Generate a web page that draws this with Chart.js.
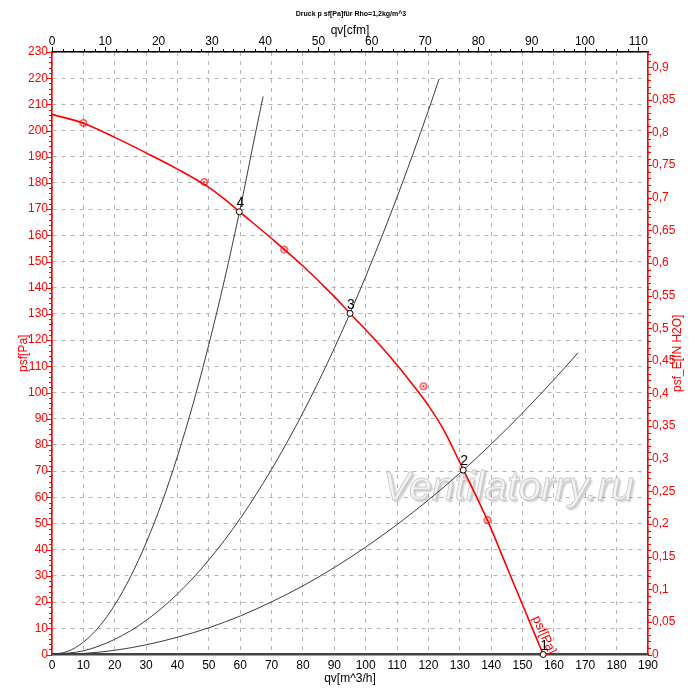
<!DOCTYPE html>
<html>
<head>
<meta charset="utf-8">
<script src="https://cdn.jsdelivr.net/npm/chart.js@4.4.1/dist/chart.umd.min.js"></script>
<style>
  html, body { margin: 0; padding: 0; background: #fff; }
  #wrap { width: 700px; height: 698px; position: relative; }
</style>
</head>
<body>
<div id="wrap"><canvas id="fanChart"></canvas></div>
<script>
// ------------------- Data -------------------
const fanFlow = [0, 10, 20, 30, 40, 50, 55, 60, 70, 80, 90, 95, 100, 105, 110, 115, 120, 125, 130, 135, 138.8, 145, 150, 156.6];
const fanPsf  = [206.2, 202.8, 197.4, 191.5, 185.3, 178.3, 173.8, 168.8, 158.8, 148.3, 136.6, 130.2, 124, 117.5, 110.5, 103, 95, 85.5, 73.3, 61, 51.3, 33.4, 19, 0];

const measFlow = [10, 48.5, 74, 118.4, 138.8];
const measPsf  = [202.9, 180.4, 154.6, 102.4, 51.3];

const sys4Flow = [0, 5, 10, 15, 20, 25, 30, 35, 40, 45, 50, 55, 60, 65, 67.3];
const sys4Psf  = [0, 1.2, 4.7, 10.6, 18.9, 29.6, 42.6, 57.9, 75.7, 95.8, 118.3, 143.1, 170.3, 199.8, 213];

const sys3Flow = [0, 10, 20, 30, 40, 50, 60, 70, 80, 90, 100, 110, 120, 123.4];
const sys3Psf  = [0, 1.4, 5.8, 13, 23.1, 36.1, 51.9, 70.7, 92.3, 116.9, 144.3, 174.6, 207.7, 219.7];

const sys2Flow = [0, 10, 20, 30, 40, 50, 60, 70, 80, 90, 100, 110, 120, 130, 140, 150, 160, 167.7];
const sys2Psf  = [0, 0.4, 1.6, 3.7, 6.6, 10.2, 14.7, 20.1, 26.2, 33.2, 41, 49.6, 59, 69.2, 80.3, 92.2, 104.9, 115.2];

const opFlow   = [156.6, 131.1, 95, 59.7];
const opPsf    = [0, 70.4, 130.2, 169];
const opLabels = ["1", "2", "3", "4"];

const M3H_TO_CFM = 0.588578;
const PA_TO_INH2O = 1 / 249.089;
const FLOW_MAX = 190;
const PSF_MAX = 230;

// ------------------- Helpers -------------------
const FONT = "'Liberation Sans', Arial, sans-serif";
const RED = "#ff0000";

function pairs(xs, ys) {
  return xs.map((x, i) => ({ x: x, y: ys[i] }));
}

function makeMarker() {
  const c = document.createElement("canvas");
  c.width = 10; c.height = 10;
  const g = c.getContext("2d");
  g.strokeStyle = RED;
  g.lineWidth = 1.1;
  g.beginPath(); g.arc(5, 5, 3.2, 0, Math.PI * 2); g.stroke();
  g.fillStyle = RED;
  g.beginPath(); g.arc(5, 5, 1.1, 0, Math.PI * 2); g.fill();
  return c;
}

function commaLabel(v) {
  return String(Math.round(v * 100) / 100).replace(".", ",");
}

// minor / major tick marks, extra texts, watermark
const decorations = {
  id: "decorations",
  beforeDatasetsDraw(chart) {
    const { ctx, scales: { x, y } } = chart;
    ctx.save();
    ctx.font = "italic 41px " + FONT;
    ctx.textAlign = "center";
    ctx.textBaseline = "alphabetic";
    const wx = x.getPixelForValue(145.5), wy = y.getPixelForValue(59);
    ctx.shadowColor = "rgba(0,0,0,0.22)";
    ctx.shadowOffsetX = 2; ctx.shadowOffsetY = 2; ctx.shadowBlur = 2;
    ctx.fillStyle = "#f3f3f3";
    ctx.fillText("Ventilatorry.ru", wx, wy);
    ctx.shadowColor = "transparent";
    ctx.strokeStyle = "#c9c9c9";
    ctx.lineWidth = 0.8;
    ctx.strokeText("Ventilatorry.ru", wx, wy);
    ctx.restore();
  },
  afterDraw(chart) {
    const { ctx, chartArea: a, scales: { x, y, x2, y2 } } = chart;
    ctx.save();
    ctx.lineWidth = 1;

    // left ticks
    ctx.strokeStyle = RED;
    for (let v = 0; v <= PSF_MAX; v += 2) {
      const py = Math.round(y.getPixelForValue(v)) + 0.5;
      const len = v % 10 === 0 ? 5 : 3;
      ctx.beginPath(); ctx.moveTo(a.left, py); ctx.lineTo(a.left - len, py); ctx.stroke();
    }
    // right ticks
    for (let i = 0; i <= 92; i++) {
      const py = Math.round(y2.getPixelForValue(i / 100)) + 0.5;
      const len = i % 5 === 0 ? 4 : 3;
      ctx.beginPath(); ctx.moveTo(a.right, py); ctx.lineTo(a.right + len, py); ctx.stroke();
    }
    // top ticks
    ctx.strokeStyle = "#000";
    for (let v = 0; v <= 111; v += 2) {
      const px = Math.round(x2.getPixelForValue(v)) + 0.5;
      const len = v % 10 === 0 ? 5 : 3;
      ctx.beginPath(); ctx.moveTo(px, a.top); ctx.lineTo(px, a.top - len); ctx.stroke();
    }

    // chart title
    ctx.fillStyle = "#000";
    ctx.font = "bold 7px " + FONT;
    ctx.textAlign = "center";
    ctx.textBaseline = "middle";
    ctx.fillText("Druck p sf[Pa]für Rho=1,2kg/m^3", 351, 14);

    // right axis title (reads upwards)
    ctx.save();
    ctx.fillStyle = RED;
    ctx.font = "12px " + FONT;
    ctx.translate(678, (a.top + a.bottom) / 2);
    ctx.rotate(-Math.PI / 2);
    ctx.fillText("psf_E[IN H2O]", 0, 0);
    ctx.restore();

    // curve label along the fan curve
    ctx.save();
    ctx.fillStyle = RED;
    ctx.font = "13px " + FONT;
    ctx.translate(x.getPixelForValue(156.8), y.getPixelForValue(7.4));
    ctx.rotate(1.15);
    ctx.fillText("psf[Pa]", 0, 0);
    ctx.restore();

    // operating point numbers
    const meta = chart.getDatasetMeta(0);
    ctx.fillStyle = "#000";
    ctx.font = "14px " + FONT;
    meta.data.forEach((el, i) => {
      ctx.fillText(opLabels[i], el.x + 1, el.y - 8.5);
    });
    ctx.restore();
  }
};

// ------------------- Chart -------------------
const tickFont = { family: FONT, size: 12 };

function systemCurve(xs, ys) {
  return {
    data: pairs(xs, ys),
    showLine: true,
    borderColor: "#3c3c3c",
    borderWidth: 1,
    pointRadius: 0,
    cubicInterpolationMode: "monotone"
  };
}

new Chart(document.getElementById("fanChart"), {
  type: "scatter",
  data: {
    datasets: [
      {
        data: pairs(opFlow, opPsf),
        pointRadius: 3,
        pointBackgroundColor: "#fff",
        pointBorderColor: "#000",
        pointBorderWidth: 1,
        clip: false
      },
      {
        data: pairs(measFlow, measPsf),
        pointStyle: makeMarker(),
        pointRadius: 5
      },
      {
        data: pairs(fanFlow, fanPsf),
        showLine: true,
        borderColor: RED,
        borderWidth: 1.6,
        pointRadius: 0,
        cubicInterpolationMode: "monotone"
      },
      systemCurve(sys4Flow, sys4Psf),
      systemCurve(sys3Flow, sys3Psf),
      systemCurve(sys2Flow, sys2Psf)
    ]
  },
  options: {
    responsive: true,
    maintainAspectRatio: false,
    animation: false,
    layout: { padding: 0 },
    plugins: { legend: { display: false }, title: { display: false }, tooltip: { enabled: false } },
    scales: {
      x: {
        type: "linear", position: "bottom", min: 0, max: FLOW_MAX,
        ticks: { stepSize: 10, autoSkip: false, includeBounds: false, maxRotation: 0, color: "#000", font: tickFont, padding: 4 },
        grid: { color: "#b4b4b4", drawTicks: false },
        border: { color: "#444", width: 2.5, dash: [4, 5] },
        title: { display: true, text: "qv[m^3/h]", color: "#000", font: tickFont, padding: { top: 0, bottom: 12 } },
        afterFit: (s) => { s.height = 43.5; }
      },
      x2: {
        type: "linear", position: "top", min: 0, max: FLOW_MAX * M3H_TO_CFM,
        ticks: { stepSize: 10, autoSkip: false, includeBounds: false, maxRotation: 0, color: "#000", font: tickFont, padding: 3 },
        grid: { display: false, drawTicks: false },
        border: { color: "#000", width: 1.5 },
        title: { display: true, text: "qv[cfm]", color: "#000", font: tickFont, padding: { top: 23, bottom: 0 } },
        afterFit: (s) => { s.height = 52; }
      },
      y: {
        type: "linear", position: "left", min: 0, max: PSF_MAX,
        ticks: { stepSize: 10, autoSkip: false, includeBounds: false, color: RED, font: tickFont, padding: 4 },
        grid: { color: "#b4b4b4", drawTicks: false },
        border: { color: RED, width: 1.6, dash: [4, 5] },
        title: { display: true, text: "psf[Pa]", color: RED, font: tickFont, padding: { top: 16, bottom: 0 } },
        afterFit: (s) => { s.width = 52; }
      },
      y2: {
        type: "linear", position: "right", min: 0, max: PSF_MAX * PA_TO_INH2O,
        ticks: { stepSize: 0.05, autoSkip: false, includeBounds: false, color: RED, font: tickFont, padding: 4, callback: commaLabel },
        grid: { display: false, drawTicks: false },
        border: { color: RED, width: 1.6 },
        afterFit: (s) => { s.width = 52; }
      }
    }
  },
  plugins: [decorations]
});
</script>
</body>
</html>
